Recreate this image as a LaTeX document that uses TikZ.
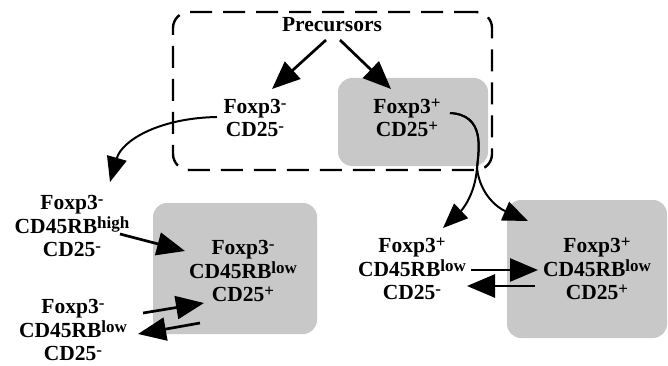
\documentclass[tikz,border=0pt]{standalone}
\usepackage{fontspec}
\setmainfont{Liberation Serif}
\usetikzlibrary{arrows.meta}
\definecolor{boxgray}{RGB}{200,200,200}
\newcommand{\sps}[1]{\raisebox{5pt}{\fontsize{17}{17}\selectfont #1}}
\tikzset{
  lbl/.style={font=\fontsize{21.5}{23.5}\selectfont\bfseries, align=center, inner sep=0pt},
  cellbox/.style={fill=boxgray, rounded corners=14pt, draw=none, inner sep=0pt},
  poolbox/.style={draw=black, line width=2.4pt, dash pattern=on 22pt off 11pt, rounded corners=16pt, inner sep=0pt},
  arr/.style={line width=2.7pt, -{Triangle[length=28pt,width=23pt]}},
  carr/.style={line width=2pt, -{Triangle[length=25pt,width=20pt]}},
}
\begin{document}
\begin{tikzpicture}[x=1pt,y=-1pt]
\useasboundingbox (0,0) rectangle (668,366);
% boxes
\node[poolbox, minimum width=319pt, minimum height=158pt] (pool) at (332.5,91) {};
\node[cellbox, minimum width=150pt, minimum height=88pt] (g1) at (413,122) {};
\node[cellbox, minimum width=164pt, minimum height=131pt] (g2) at (235,268.5) {};
\node[cellbox, minimum width=160pt, minimum height=138pt] (g3) at (587,269) {};
% labels
\node[lbl] (prec) at (332,25) {Precursors};
\node[lbl] (nn) at (255,118) {Foxp3\sps{-}\\CD25\sps{-}};
\node[lbl] (pp) at (407,118) {Foxp3\sps{+}\\CD25\sps{+}};
\node[lbl] (hi) at (72,226) {Foxp3\sps{-}\\CD45RB\sps{high}\\CD25\sps{-}};
\node[lbl] (nlp) at (243,271) {Foxp3\sps{-}\\CD45RB\sps{low}\\CD25\sps{+}};
\node[lbl] (nln) at (73,330) {Foxp3\sps{-}\\CD45RB\sps{low}\\CD25\sps{-}};
\node[lbl] (pln) at (412,269) {Foxp3\sps{+}\\CD45RB\sps{low}\\CD25\sps{-}};
\node[lbl] (plp) at (597,269) {Foxp3\sps{+}\\CD45RB\sps{low}\\CD25\sps{+}};
% coordinates
\coordinate (pa) at (326,40);
\coordinate (pb) at (340,40);
\coordinate (ta) at (272,89);
\coordinate (tb) at (391,89);
\coordinate (nnw) at (217,117);
\coordinate (hit) at (110,182);
\coordinate (ppe) at (450,113);
\coordinate (split) at (477,168);
\coordinate (plnt) at (443,228);
\coordinate (plpt) at (528,221);
% arrows
\draw[arr] (pa) -- (ta);
\draw[arr] (pb) -- (tb);
\draw[carr] (nnw) .. controls (160,118) and (122,140) .. (hit);
\draw[carr] (ppe) .. controls (485,115) and (479,148) .. (split) .. controls (475,195) and (462,210) .. (plnt);
\draw[carr] (ppe) .. controls (485,115) and (479,148) .. (split) .. controls (480,195) and (498,208) .. (plpt);
\draw[arr] (120,234) -- (185,251);
\draw[arr] (143,313) -- (204,303);
\draw[arr] (200,323) -- (138,334);
\draw[arr] (471,270) -- (538,270);
\draw[arr] (535,286) -- (467,286);
\end{tikzpicture}
\end{document}
